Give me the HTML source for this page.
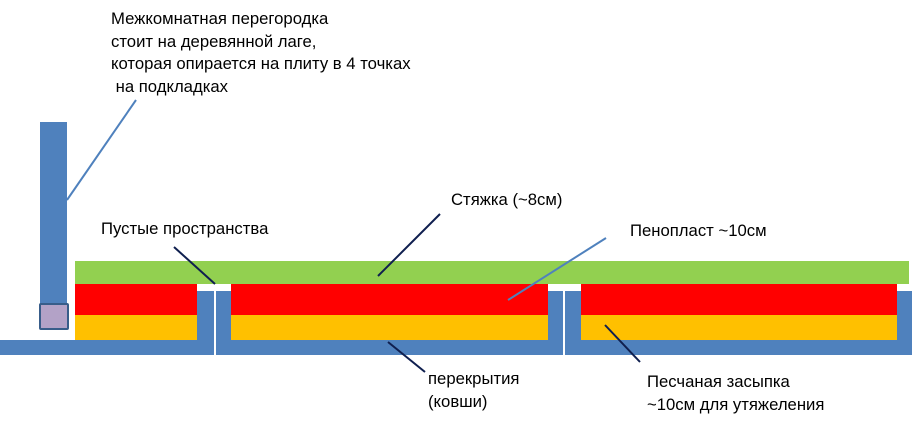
<!DOCTYPE html>
<html><head><meta charset="utf-8"><style>
body{margin:0;width:912px;height:424px;background:#fff;position:relative;overflow:hidden;font-family:"Liberation Sans",Arial,sans-serif;font-size:16.7px;color:#000}
div{position:absolute}
.t{white-space:nowrap;line-height:22.5px}
</style></head><body>
<div style="left:75px;top:261px;width:834px;height:23px;background:#92d050"></div>
<div style="left:75px;top:284px;width:122px;height:31px;background:#f00"></div>
<div style="left:75px;top:315px;width:122px;height:25px;background:#ffc000"></div>
<div style="left:231px;top:284px;width:317px;height:31px;background:#f00"></div>
<div style="left:231px;top:315px;width:317px;height:25px;background:#ffc000"></div>
<div style="left:581px;top:284px;width:316px;height:31px;background:#f00"></div>
<div style="left:581px;top:315px;width:316px;height:25px;background:#ffc000"></div>
<div style="left:0;top:340px;width:912px;height:15px;background:#4f81bd"></div>
<div style="left:197px;top:291px;width:17px;height:50px;background:#4f81bd"></div>
<div style="left:216px;top:291px;width:15px;height:50px;background:#4f81bd"></div>
<div style="left:548px;top:291px;width:15px;height:50px;background:#4f81bd"></div>
<div style="left:565px;top:291px;width:16px;height:50px;background:#4f81bd"></div>
<div style="left:897px;top:291px;width:15px;height:50px;background:#4f81bd"></div>
<div style="left:214px;top:291px;width:2px;height:65px;background:#fff"></div>
<div style="left:563px;top:291px;width:2px;height:65px;background:#fff"></div>
<div style="left:40px;top:122px;width:27px;height:183px;background:#4f81bd"></div>
<div style="left:39px;top:303px;width:26px;height:23px;background:#b3a2c7;border:2px solid #385d8a;border-radius:2px"></div>
<svg width="912" height="424" style="position:absolute;left:0;top:0">
<g stroke-width="2">
<line x1="67" y1="200" x2="136" y2="100" stroke="#4f81bd"/>
<line x1="174" y1="247" x2="215" y2="284" stroke="#0f1f4f"/>
<line x1="378" y1="276" x2="440" y2="214" stroke="#0f1f4f"/>
<line x1="508" y1="300" x2="606" y2="238" stroke="#4f81bd"/>
<line x1="388" y1="342" x2="425" y2="372" stroke="#0f1f4f"/>
<line x1="605" y1="325" x2="640" y2="362" stroke="#0f1f4f"/>
</g></svg>
<div class="t" style="left:111px;top:8px">Межкомнатная перегородка<br>стоит на деревянной лаге,<br>которая опирается на плиту в 4 точках<br>&nbsp;на подкладках</div>
<div class="t" style="left:101px;top:218px">Пустые пространства</div>
<div class="t" style="left:451px;top:189px">Стяжка (~8см)</div>
<div class="t" style="left:630px;top:220px">Пенопласт ~10см</div>
<div class="t" style="left:428px;top:368px">перекрытия<br>(ковши)</div>
<div class="t" style="left:647px;top:371px">Песчаная засыпка<br>~10см для утяжеления</div>
</body></html>
